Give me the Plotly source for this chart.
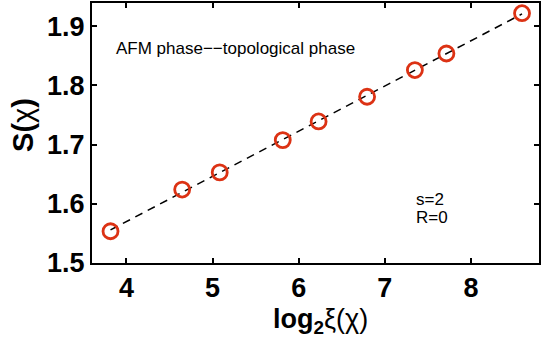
import numpy as np
import plotly.graph_objects as go

# log2 of correlation length and entanglement entropy
log2_xi = [3.815, 4.647, 5.083, 5.815, 6.231, 6.794, 7.349, 7.715, 8.593]
entropy = [1.5536, 1.624, 1.653, 1.7075, 1.739, 1.7807, 1.8258, 1.8537, 1.9218]

x_ticks = [4, 5, 6, 7, 8]
y_ticks = [1.5, 1.6, 1.7, 1.8, 1.9]

# linear fit S = (c/6) log2 xi + const
slope, intercept = np.polyfit(log2_xi, entropy, 1)
fit_x = np.array([min(log2_xi), max(log2_xi)])
fit_y = slope * fit_x + intercept

FONT = "Liberation Sans, Arial, Helvetica, sans-serif"
RED = "#DC3214"

fig = go.Figure()
fig.add_trace(go.Scatter(
    x=fit_x, y=fit_y, mode="lines",
    line=dict(color="black", width=1.5, dash="8px,6px"),
    showlegend=False, hoverinfo="skip",
))
fig.add_trace(go.Scatter(
    x=log2_xi, y=entropy, mode="markers",
    marker=dict(symbol="circle-open", size=15, color=RED,
                line=dict(color=RED, width=2.8)),
    showlegend=False,
))

axis_common = dict(
    showline=True, linecolor="black", linewidth=2, mirror="ticks",
    ticks="inside", ticklen=5, tickwidth=1.5, tickcolor="black",
    showgrid=False, zeroline=False,
    tickfont=dict(family=FONT, size=27, color="black", weight="bold"),
)

fig.update_layout(
    width=542, height=345,
    margin=dict(l=92, r=1, t=1, b=82),
    paper_bgcolor="white", plot_bgcolor="white",
    xaxis=dict(range=[3.6, 8.79], tickvals=x_ticks,
               ticktext=[str(v) for v in x_ticks], **axis_common),
    yaxis=dict(range=[1.5, 1.939], tickvals=y_ticks,
               ticktext=[f"{v:.1f}" for v in y_ticks], **axis_common),
    font=dict(family=FONT, color="black"),
    annotations=[
        dict(text="<b>log</b><sub><b>2</b></sub>ξ(χ)", xref="paper", yref="paper",
             x=0.512, y=-0.222, xanchor="center", yanchor="middle",
             showarrow=False, font=dict(family=FONT, size=27, color="black")),
        dict(text="<b>S(</b>χ<b>)</b>", xref="paper", yref="paper",
             x=-0.155, y=0.53, xanchor="center", yanchor="middle", textangle=-90,
             showarrow=False, font=dict(family=FONT, size=29, color="black")),
        dict(text="AFM phase−−topological phase", xref="x", yref="y",
             x=3.861, y=1.863, xanchor="left", yanchor="middle",
             showarrow=False, font=dict(family=FONT, size=17, color="black")),
        dict(text="s=2", xref="x", yref="y",
             x=7.34, y=1.608, xanchor="left", yanchor="middle",
             showarrow=False, font=dict(family=FONT, size=17, color="black")),
        dict(text="R=0", xref="x", yref="y",
             x=7.34, y=1.577, xanchor="left", yanchor="middle",
             showarrow=False, font=dict(family=FONT, size=17, color="black")),
    ],
)

fig.write_html("out.html")
